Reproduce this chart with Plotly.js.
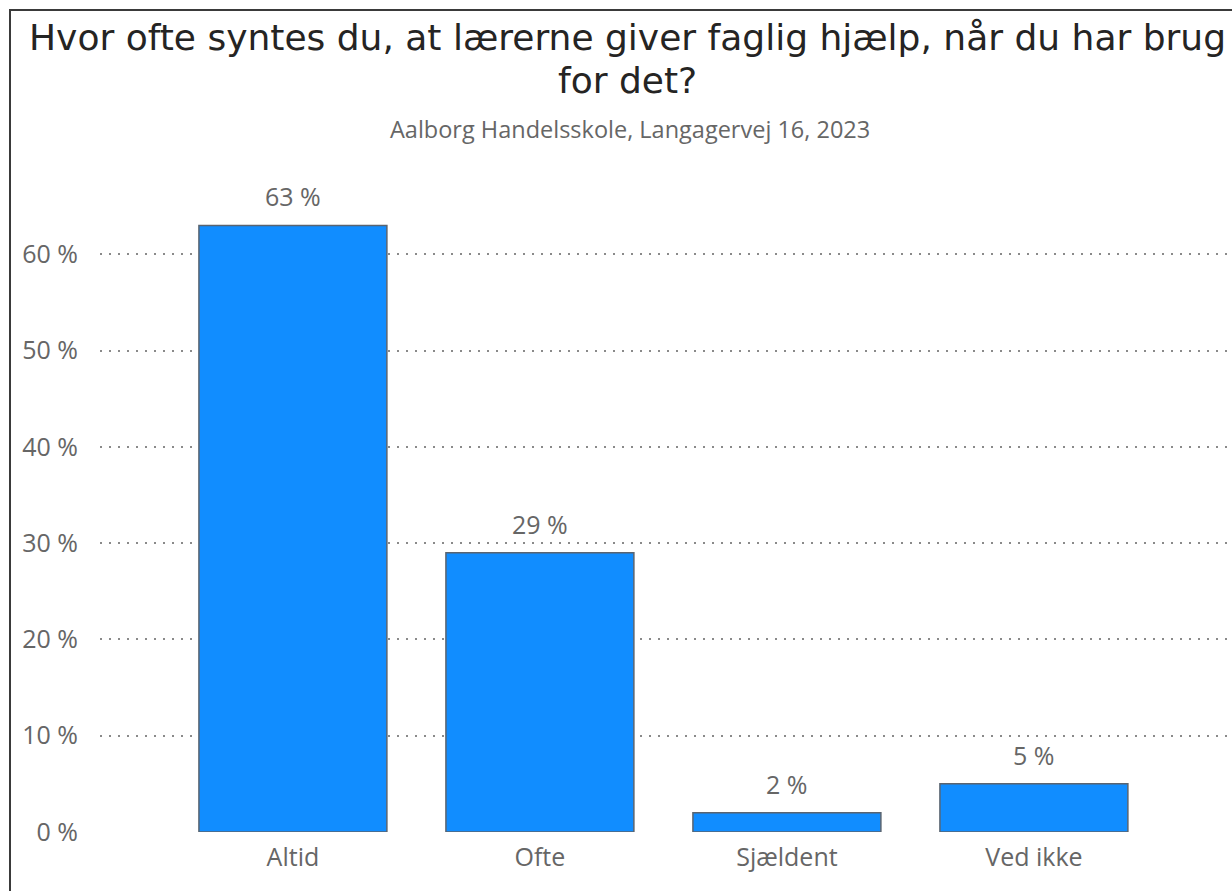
<!DOCTYPE html>
<html>
<head>
<meta charset="utf-8">
<script src="https://cdn.plot.ly/plotly-3.0.1.min.js"></script>
<style>
  html, body { margin: 0; padding: 0; background: #fff; }
  #wrap { position: relative; width: 1232px; height: 891px; overflow: hidden; }
  #chart { position: absolute; left: 0; top: 0; width: 1232px; height: 891px; }
  #frame { position: absolute; left: 9px; top: 9px; width: 1300px; height: 1000px;
           border-left: 2px solid #3a3a3a; border-top: 2px solid #3a3a3a; pointer-events: none; }
</style>
</head>
<body>
<div id="wrap">
  <div id="chart"></div>
  <div id="frame"></div>
</div>
<script>
const categories = ["Altid", "Ofte", "Sjældent", "Ved ikke"];
const values = [63, 29, 2, 5];
const valueLabels = ["63 %", "29 %", "2 %", "5 %"];
const yTickVals = [0, 10, 20, 30, 40, 50, 60];
const yTickText = ["0 %", "10 %", "20 %", "30 %", "40 %", "50 %", "60 %"];
const titleLines = ["Hvor ofte syntes du, at lærerne giver faglig hjælp, når du har brug", "for det?"];
const subtitleText = "Aalborg Handelsskole, Langagervej 16, 2023";

const labelFont = { family: "Open Sans, Noto Sans, sans-serif", size: 25, color: "#666666" };
const titleFont = { family: "DejaVu Sans, sans-serif", size: 36, color: "#252423" };

const trace = {
  type: "bar",
  x: categories,
  y: values,
  marker: { color: "#118DFF", line: { color: "#5a6470", width: 1.5 } },
  hoverinfo: "skip"
};

const annotations = categories.map((c, i) => ({
  x: c, y: values[i], xref: "x", yref: "y",
  text: valueLabels[i], showarrow: false,
  yanchor: "middle", yshift: 29, font: labelFont
}));

annotations.push(
  { xref: "paper", yref: "paper", x: 0.466, y: 1.179, xanchor: "center", yanchor: "middle",
    text: titleLines[0], showarrow: false, font: titleFont },
  { xref: "paper", yref: "paper", x: 0.466, y: 1.115, xanchor: "center", yanchor: "middle",
    text: titleLines[1], showarrow: false, font: titleFont },
  { xref: "paper", yref: "paper", x: 0.468, y: 1.0426, xanchor: "center", yanchor: "middle",
    text: subtitleText, showarrow: false,
    font: { family: "Open Sans, Noto Sans, sans-serif", size: 23.5, color: "#666666" } }
);

const layout = {
  width: 1232, height: 891,
  margin: { l: 100, r: 0, t: 158, b: 59 },
  paper_bgcolor: "rgba(0,0,0,0)",
  plot_bgcolor: "rgba(0,0,0,0)",
  showlegend: false,
  bargap: 0.239,
  xaxis: {
    type: "category",
    range: [-0.781, 3.802],
    showgrid: false, zeroline: false, showline: false,
    ticks: "outside", ticklen: 3, tickcolor: "rgba(0,0,0,0)",
    tickfont: labelFont
  },
  yaxis: {
    range: [0, 70],
    tickvals: yTickVals, ticktext: yTickText,
    showgrid: true, gridcolor: "#8a8a8a", gridwidth: 2, griddash: "2px,7px",
    zeroline: false, showline: false,
    ticks: "outside", ticklen: 16, tickcolor: "rgba(0,0,0,0)",
    tickfont: labelFont
  },
  annotations: annotations
};

Plotly.newPlot("chart", [trace], layout, { displayModeBar: false, staticPlot: true });
</script>
</body>
</html>
